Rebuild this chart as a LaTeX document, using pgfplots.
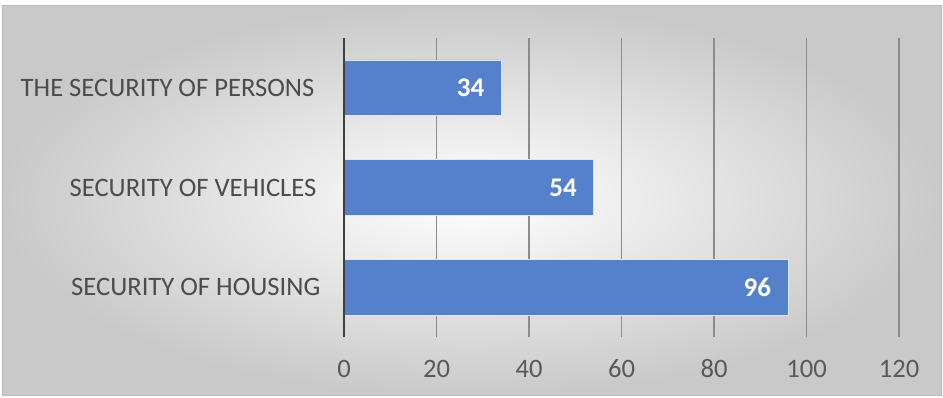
\documentclass[border=0pt]{standalone}
\usepackage{pgfplots}
\pgfplotsset{compat=1.18}
\usepackage{fontspec}
\setmainfont{Carlito}
\definecolor{barblue}{HTML}{5580CC}
\definecolor{ticktext}{HTML}{595959}
\definecolor{gridc}{HTML}{8C8C8C}
\definecolor{axisc}{HTML}{404040}
\begin{document}
\begin{tikzpicture}[x=0.5pt,y=0.5pt]
\fill[white] (0,0) rectangle (943,397);
\shade[inner color=white, outer color=gray!42] (2,2) rectangle (941,391);
\draw[gray!55, line width=0.5pt] (2,2) rectangle (941,391);
\begin{axis}[
  at={(172pt,30pt)}, anchor=south west,
  scale only axis, width=277.5pt, height=149.5pt,
  xbar, bar width=0.56,
  xmin=0, xmax=120, ymin=-0.5, ymax=2.5,
  xtick={0,20,40,60,80,100,120},
  ytick={0,1,2},
  yticklabels={SECURITY OF HOUSING\hspace*{-2pt}, SECURITY OF VEHICLES, THE SECURITY OF PERSONS\hspace*{1pt}},
  axis line style={draw=none},
  axis x line*=bottom, axis y line*=left,
  tick style={draw=none},
  xmajorgrids, major grid style={gridc, line width=0.6pt},
  xticklabel style={font=\fontsize{13.3}{15}\selectfont, text=ticktext, anchor=base, yshift=-20pt},
  yticklabel style={font=\fontsize{13.3}{15}\selectfont, text=black!70, anchor=east, xshift=-6pt},
  /pgf/number format/assume math mode=true,
  nodes near coords,
  nodes near coords style={font=\bfseries\fontsize{13.5}{15}\selectfont, text=white, anchor=east, xshift=-5pt},
  clip=false,
]
\addplot[fill=barblue, draw=white!80!barblue, line width=0.4pt] coordinates {(96,0) (54,1) (34,2)};
\draw[axisc, line width=1.4pt] (axis cs:0,-0.5) -- (axis cs:0,2.5);
\end{axis}
\end{tikzpicture}
\end{document}
